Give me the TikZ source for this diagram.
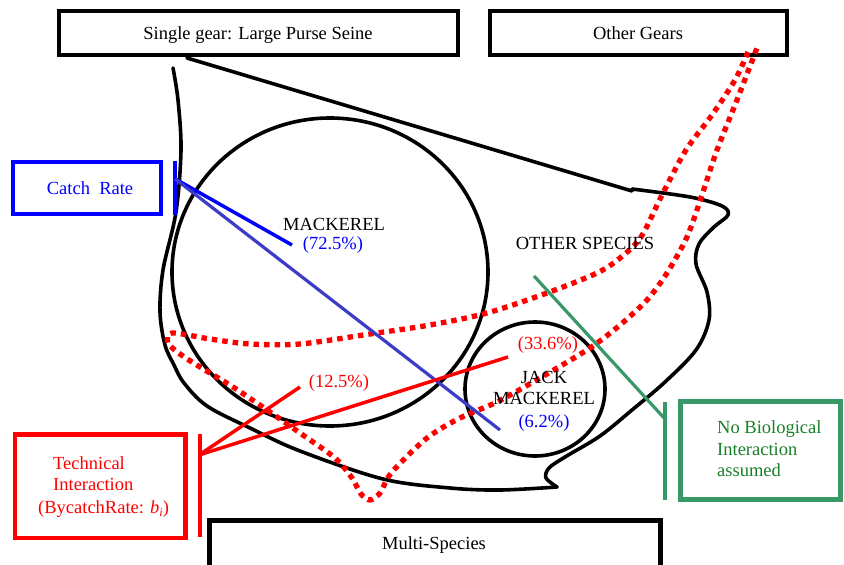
\documentclass[tikz,border=0pt]{standalone}
\usepackage{fontspec}
\setmainfont{Liberation Serif}
\usetikzlibrary{shapes.geometric}
\definecolor{gline}{RGB}{56,152,104}
\definecolor{gtext}{RGB}{24,128,40}
\definecolor{slate}{RGB}{60,60,200}
\definecolor{pblue}{RGB}{0,0,255}
\definecolor{pred}{RGB}{255,0,0}
\tikzset{
  lbl/.style={inner sep=0pt, anchor=base, font=\fontsize{18.5}{22}\selectfont},
  lblw/.style={lbl, anchor=base west},
  frame/.style={draw, line width=4.5pt, inner sep=0pt},
  bar/.style={line width=4pt},
  blob/.style={line width=3.6pt, line cap=round, line join=round},
  reddots/.style={draw=pred, line width=5.3pt, dash pattern=on 5.5pt off 5pt},
}
\begin{document}
\begin{tikzpicture}[x=1pt,y=-1pt]
\useasboundingbox (0,0) rectangle (844,565);
\clip (0,0) rectangle (844,565);

% top boxes
\node[frame, minimum width=399pt, minimum height=44pt] (single) at (258.5,33) {};
\node[lbl] (singlet) at (258,39) {Single gear: Large Purse Seine};
\node[frame, minimum width=297pt, minimum height=44pt] (other) at (638.5,33) {};
\node[lbl] (othert) at (638,39) {Other Gears};

% bottom box
\node[frame, minimum width=451pt, minimum height=60pt] (multi) at (435,550.5) {};
\node[lbl] (multit) at (434,549) {Multi-Species};

% catch rate box
\node[frame, draw=pblue, line width=4.5pt, minimum width=148pt, minimum height=52pt] (catch) at (87,188) {};
\node[lbl, text=pblue] (catcht) at (90,194) {Catch\ \ Rate};

% technical box
\node[frame, draw=pred, minimum width=170.5pt, minimum height=103.5pt] (tech) at (100.25,486.25) {};
\node[lblw, text=pred] (tech1) at (53,469) {Technical};
\node[lblw, text=pred] (tech2) at (53,490) {Interaction};
\node[lblw, text=pred] (tech3) at (38,513) {(BycatchRate: \textit{b}\raisebox{-3pt}{\fontsize{12}{12}\selectfont\textit{i}})};

% green box
\node[frame, draw=gline, minimum width=160pt, minimum height=98pt] (nobio) at (760.5,450.5) {};
\node[lblw, text=gtext] (nobio1) at (717,433) {No Biological};
\node[lblw, text=gtext] (nobio2) at (717,455) {Interaction};
\node[lblw, text=gtext] (nobio3) at (717,476) {assumed};

% outer blob
\draw[blob] plot[smooth, tension=0.55] coordinates {(173,68) (178,100) (181,150) (176,212) (163,270) (160,312) (165,345) (174,365) (184,383) (207,406) (250,428) (300,451) (383,479) (450,488) (500,490) (557,487)};
\draw[blob] plot[smooth, tension=0.55] coordinates {(557,487) (546,478) (549,468) (565,457) (600,436) (632,410) (665,382) (696,350) (709,320) (707,292) (696,264) (699,244) (714,227) (728,215) (722,206) (690,197) (632,189)};
\draw[blob] (632,191) -- (187,58);

% species circles
\node[draw, line width=3.6pt, ellipse, minimum width=316pt, minimum height=308pt, inner sep=0pt] (mack) at (330,272) {};
\node[draw, line width=3.6pt, ellipse, minimum width=140pt, minimum height=134pt, inner sep=0pt] (jack) at (535,389) {};

% red dotted loop
\draw[reddots] plot[smooth, tension=0.5] coordinates {(748,52) (735,80) (712,115) (686,150) (662,195) (641,237) (620,258) (597,273) (547,293) (487,313) (430,325) (370,334) (300,344) (250,344) (210,339) (172,333) (168,343) (180,354) (200,367) (233,387) (267,410) (300,433) (335,458) (352,478) (361,494) (370,500) (380,493) (392,472) (427,438) (460,418) (497,402) (540,378) (590,348) (620,325) (647,300) (667,273) (687,237) (702,195) (717,150) (737,100) (757,48)};

% labels inside
\node[lbl] (mackt) at (334,230) {MACKEREL};
\node[lbl, text=pblue] (mackp) at (333,249) {(72.5\%)};
\node[lbl] (othsp) at (585,249) {OTHER SPECIES};
\node[lbl] (jack1) at (544,383) {JACK};
\node[lbl] (jack2) at (544,404) {MACKEREL};
\node[lbl, text=pblue] (jackp) at (544,427) {(6.2\%)};
\node[lbl, text=pred] (jackr) at (548,349) {(33.6\%)};
\node[lbl, text=pred] (mackr) at (339,387) {(12.5\%)};

% bars
\coordinate (cbTop) at (175.3,160.7);
\coordinate (cbBot) at (175.3,215);
\coordinate (cbHub) at (175.3,179);
\draw[bar, pblue] (cbTop) -- (cbBot);
\coordinate (tbTop) at (199.7,434);
\coordinate (tbBot) at (199.7,537);
\coordinate (tbHub) at (199,455);
\draw[bar, pred] (tbTop) -- (tbBot);
\coordinate (gbTop) at (665.3,401.7);
\coordinate (gbBot) at (665.3,500);
\coordinate (gbHub) at (665,419);
\draw[bar, gline] (gbTop) -- (gbBot);

% connectors
\coordinate (mackEnd) at (292,245);
\coordinate (jackEnd) at (500,430);
\coordinate (redA) at (300,387);
\coordinate (redB) at (508,357);
\coordinate (greenA) at (534,276);
\draw[line width=3.5pt, pblue] (cbHub) -- (mackEnd);
\draw[line width=3.2pt, slate] (cbHub) -- (jackEnd);
\draw[line width=3.5pt, pred] (tbHub) -- (redA);
\draw[line width=3.5pt, pred] (tbHub) -- (redB);
\draw[line width=3.2pt, gline] (greenA) -- (gbHub);
\end{tikzpicture}
\end{document}
